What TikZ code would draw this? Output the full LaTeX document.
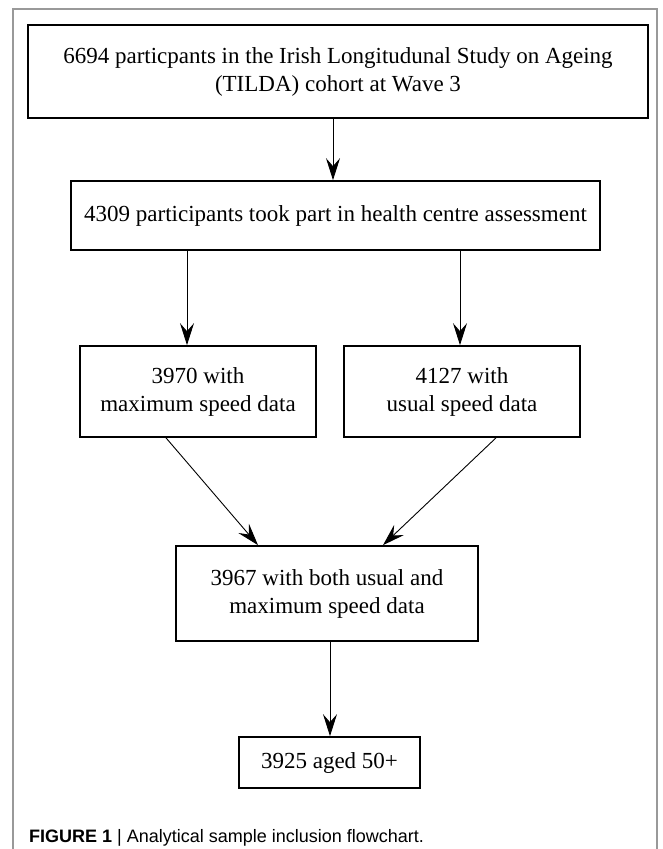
\documentclass[tikz,border=0pt]{standalone}
\usepackage{fontspec}
\setmainfont{Liberation Serif}
\newfontfamily\capfont{Liberation Sans}
\usetikzlibrary{arrows.meta}
\begin{document}
\begin{tikzpicture}[x=1pt,y=-1pt,
  boxnode/.style={draw=black, line width=1.7pt, rectangle, inner sep=0pt, align=center,
    font=\fontsize{23}{28}\selectfont},
  arr/.style={draw=black, line width=0.9pt, -{Stealth[length=22pt,width=14pt,inset=8pt]}},
  framestyle/.style={draw=black!40, line width=1.1pt}]
\useasboundingbox (0,0) rectangle (663,849);
\draw[framestyle] (13,849) -- (13,9) -- (657,9) -- (657,849);

\node[boxnode, minimum width=620pt, minimum height=93pt] (top) at (338,71.5)
  {6694 particpants in the Irish Longitudunal Study on Ageing\\(TILDA) cohort at Wave 3};
\node[boxnode, minimum width=529pt, minimum height=69pt] (hca) at (335.5,215.5)
  {4309 participants took part in health centre assessment};
\node[boxnode, minimum width=236pt, minimum height=91pt] (maxs) at (198,391.5)
  {3970 with\\maximum speed data};
\node[boxnode, minimum width=236pt, minimum height=91pt] (usual) at (462,391.5)
  {4127 with\\usual speed data};
\node[boxnode, minimum width=302pt, minimum height=95pt] (both) at (327,593.5)
  {3967 with both usual and\\maximum speed data};
\node[boxnode, minimum width=181pt, minimum height=51pt] (aged) at (329.5,762.5)
  {3925 aged 50+};

\coordinate (c1) at (333,0);
\coordinate (c2) at (187,0);
\coordinate (c3) at (460,0);
\coordinate (c4) at (166,0);
\coordinate (c5) at (258,0);
\coordinate (c6) at (496,0);
\coordinate (c7) at (383,0);
\coordinate (c8) at (330,0);

\draw[arr] (top.south -| c1) -- (hca.north -| c1);
\draw[arr] (hca.south -| c2) -- (maxs.north -| c2);
\draw[arr] (hca.south -| c3) -- (usual.north -| c3);
\draw[arr] (maxs.south -| c4) -- (both.north -| c5);
\draw[arr] (usual.south -| c6) -- (both.north -| c7);
\draw[arr] (both.south -| c8) -- (aged.north -| c8);

\node[anchor=base west, inner sep=0pt, font=\capfont\fontsize{18}{21}\selectfont] (cap) at (29,842)
  {\textbf{FIGURE 1} | Analytical sample inclusion flowchart.};
\end{tikzpicture}
\end{document}
